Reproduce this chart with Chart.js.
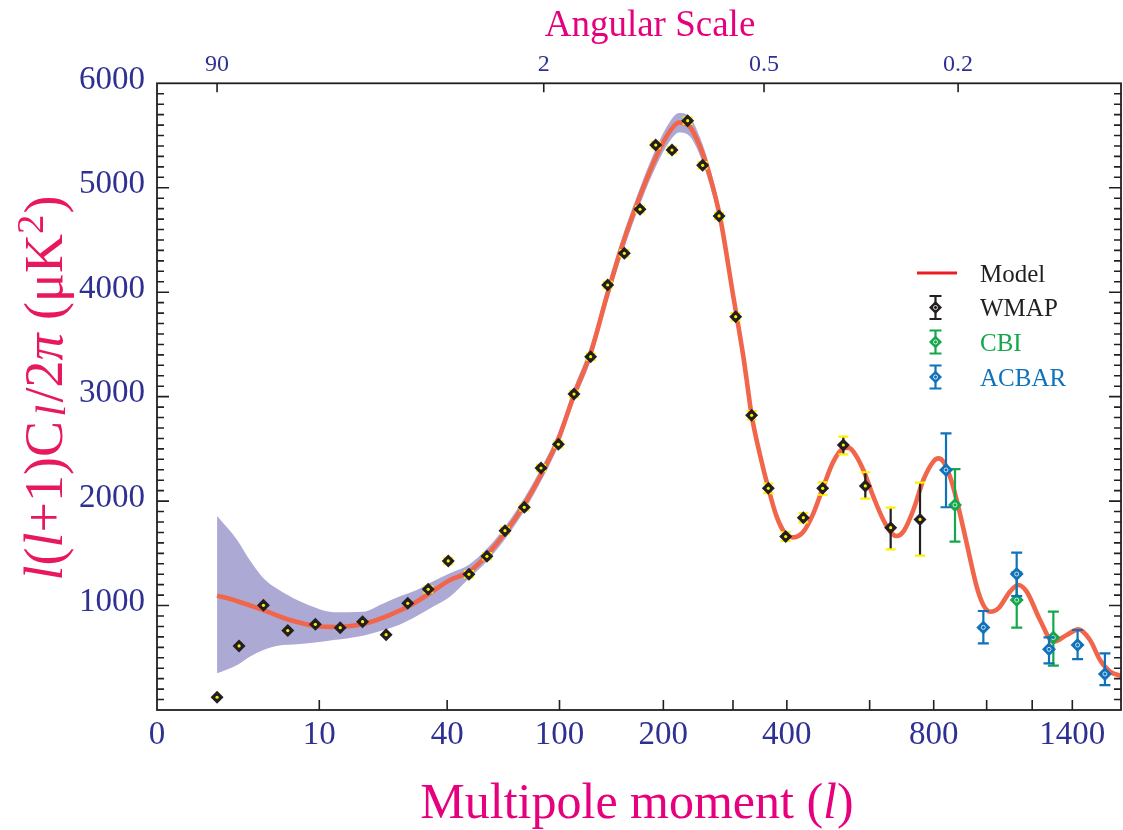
<!DOCTYPE html>
<html><head><meta charset="utf-8">
<script src="https://cdn.jsdelivr.net/npm/chart.js@4.4.1/dist/chart.umd.min.js"></script>
<style>html,body{margin:0;padding:0;background:#fff;}#wrap{width:1123px;height:830px;position:relative;}</style>
</head><body><div id="wrap"><canvas id="c" width="1123" height="830"></canvas></div>
<script>
// ---------- data ----------
const xTickValues = [0, 10, 40, 100, 200, 400, 800, 1400];
const xTickLabels = ['0', '10', '40', '100', '200', '400', '800', '1400'];
const xMinorTicks = [300, 600, 1000, 1200];
const angularTickL = [2, 89, 355, 888];
const angularTickLabels = ['90', '2', '0.5', '0.2'];
const yTickValues = [1000, 2000, 3000, 4000, 5000, 6000];

const modelL = [2.0, 2.88, 4.49, 6.71, 9.66, 12.45, 17.05, 22.82, 29.95, 35.17, 41.06, 48.64, 56.74, 65.82, 76.53, 88.51, 98.91, 111.0, 125.0, 140.3, 154.95, 172.9, 192.3, 208.3, 219.9, 234.7, 248.9, 263.6, 279.0, 300.6, 317.6, 323.4, 332.3, 347.5, 363.2, 379.4, 396.2, 413.5, 435.1, 457.5, 480.7, 504.8, 529.8, 542.6, 555.7, 582.5, 610.4, 639.2, 663.9, 679.1, 699.8, 731.7, 764.7, 798.7, 816.2, 833.9, 858.1, 882.7, 920.6, 959.7, 986.5, 1013.9, 1048.8, 1099.2, 1136.3, 1174.4, 1237.3, 1302.6, 1370.5, 1432.1, 1495.7, 1551.9, 1609.7, 1675];
const modelV = [1095, 1044, 957, 862, 804, 795, 823, 910, 1037, 1142, 1245, 1321, 1484, 1695, 1963, 2288, 2585, 3016, 3428, 4002, 4471, 4921, 5313, 5543, 5625, 5582, 5393, 5106, 4723, 3957, 3383, 3159, 2818, 2441, 2122, 1851, 1691, 1653, 1707, 1883, 2138, 2378, 2505, 2512, 2473, 2298, 2042, 1819, 1691, 1666, 1707, 1915, 2202, 2378, 2409, 2378, 2234, 2011, 1596, 1181, 1005, 941, 973, 1133, 1197, 1133, 862, 654, 718, 772, 670, 479, 367, 326];

const bandL = [2, 2.9, 3.6, 4.5, 5.5, 7.7, 9.7, 12, 17, 21, 25, 30, 35, 41, 48.6, 56.7, 65.8, 76.5, 88.5, 98.9, 111, 125, 140.3, 155, 172.9, 192.3, 208.3, 219.9, 234.7, 248.9, 263.6, 279, 300.6, 317.6, 332.3, 347.5, 363.2, 379.4, 396.2];
const bandUpper = [1857, 1628, 1436, 1261, 1165, 1040, 973, 935, 941, 1015, 1085, 1149, 1230, 1309, 1390, 1545, 1755, 2025, 2350, 2650, 3085, 3500, 4080, 4550, 5000, 5400, 5635, 5715, 5675, 5480, 5190, 4800, 4030, 3450, 2880, 2495, 2170, 1895, 1730];
const bandLower = [351, 431, 511, 574, 613, 632, 648, 670, 712, 760, 814, 900, 989, 1085, 1260, 1425, 1635, 1900, 2225, 2520, 2950, 3355, 3925, 4390, 4840, 5225, 5450, 5530, 5490, 5305, 5020, 4645, 3885, 3315, 2755, 2390, 2075, 1810, 1655];

const wmapL = [2, 3, 4.5, 6.5, 9.5, 13, 16.9, 21.9, 27.4, 33.5, 40.4, 48.6, 56.7, 65.8, 76.7, 87.2, 99.2, 111, 124.7, 140, 156.3, 172.9, 190.8, 210.8, 231.5, 252.7, 277.5, 304.5, 332.2, 363.2, 397.6, 435.1, 479.1, 529.8, 588, 660.9, 753.6];
const wmapV = [122, 613, 1002, 760, 820, 788, 846, 721, 1021, 1155, 1427, 1299, 1471, 1717, 1940, 2317, 2544, 3025, 3383, 4069, 4372, 4793, 5409, 5361, 5642, 5215, 4730, 3766, 2821, 2122, 1660, 1841, 2122, 2537, 2145, 1746, 1825];
const wmapErrHi = [0, 0, 0, 0, 0, 0, 0, 0, 0, 30, 30, 30, 30, 30, 30, 30, 30, 30, 30, 30, 30, 30, 30, 30, 30, 30, 30, 35, 40, 45, 40, 45, 58, 80, 131, 191, 351];
const wmapErrLo = [0, 0, 0, 0, 0, 0, 0, 0, 0, 30, 30, 30, 30, 30, 30, 30, 30, 30, 30, 30, 30, 30, 30, 30, 30, 30, 30, 35, 40, 45, 40, 45, 61, 89, 122, 208, 347];

const cbiL = [876.4, 1129, 1302.6];
const cbiV = [1963, 1053, 693];
const cbiErrHi = [344, 265, 248];
const cbiErrLo = [351, 265, 269];

const acbarL = [843.5, 986.5, 1128.8, 1281, 1428, 1580];
const acbarV = [2298, 791, 1302, 581, 622, 345];
const acbarErrHi = [351, 157, 204, 115, 144, 198];
const acbarErrLo = [357, 153, 211, 134, 134, 106];

// ---------- styling ----------
const FONT = '"Liberation Serif", "Times New Roman", Times, serif';
const NAVY = '#2e3192';
const MAGENTA = '#e6007e';
const ROSE = '#e8185f';
const FRAME = '#231f20';
const MODEL_COLOR = '#f1664a';
const BAND_COLOR = 'rgb(173,169,213)';
const WMAP_COLOR = '#231f20';
const CBI_COLOR = '#14a84b';
const ACBAR_COLOR = '#0f72ba';
const YELLOW = '#fff200';

const pts = (L, V) => L.map((l, i) => ({x: l, y: V[i]}));

// ---------- custom l^(1/4) multipole scale ----------
class QuarterPowerScale extends Chart.Scale {
  static id = 'quarterpower';
  static defaults = {};
  determineDataLimits() { this.min = this.options.min; this.max = this.options.max; }
  buildTicks() { return []; }
  getLabelForValue(v) { return String(v); }
  _t(v) { const c = Math.min(Math.max(v, this.min), this.max); return Math.pow(c, 0.25); }
  getPixelForValue(v) {
    const a = Math.pow(this.min, 0.25), b = Math.pow(this.max, 0.25);
    return this.getPixelForDecimal((this._t(v) - a) / (b - a));
  }
  getValueForPixel(p) {
    const a = Math.pow(this.min, 0.25), b = Math.pow(this.max, 0.25);
    return Math.pow(a + this.getDecimalForPixel(p) * (b - a), 4);
  }
}
Chart.register(QuarterPowerScale);

function diamond(ctx, x, y, r, fill) {
  ctx.beginPath();
  ctx.moveTo(x, y - r); ctx.lineTo(x + r, y); ctx.lineTo(x, y + r); ctx.lineTo(x - r, y); ctx.closePath();
  ctx.fillStyle = fill; ctx.fill();
}

function segFont(s, base) { return (s.it ? 'italic ' : '') + (base * (s.scale || 1)) + 'px ' + FONT; }
function richWidth(ctx, segs, base) {
  let w = 0;
  segs.forEach(s => { ctx.font = segFont(s, base); w += ctx.measureText(s.t).width + (s.gap || 0) * base; });
  return w;
}
function drawRich(ctx, segs, x, y, base, color) {
  let cx = x - richWidth(ctx, segs, base) / 2;
  ctx.fillStyle = color; ctx.textBaseline = 'alphabetic'; ctx.textAlign = 'left';
  segs.forEach(s => {
    cx += (s.gap || 0) * base;
    ctx.font = segFont(s, base);
    ctx.fillText(s.t, cx, y + (s.dy || 0) * base);
    cx += ctx.measureText(s.t).width;
  });
}

const errorBarPlugin = {
  id: 'errbars',
  beforeDatasetDraw(chart, args) {
    const ds = chart.data.datasets[args.index];
    if (!ds.errHi) return;
    const ctx = chart.ctx, ys = chart.scales.y;
    ctx.save();
    ctx.lineWidth = 2.2;
    ds.data.forEach((p, i) => {
      if (!ds.errHi[i] && !ds.errLo[i]) return;
      const px = args.meta.data[i].x;
      const yt = ys.getPixelForValue(p.y + ds.errHi[i]);
      const yb = ys.getPixelForValue(p.y - ds.errLo[i]);
      ctx.strokeStyle = ds.stemColor;
      ctx.beginPath(); ctx.moveTo(px, yt); ctx.lineTo(px, yb); ctx.stroke();
      ctx.strokeStyle = ds.capColor;
      const hw = ds.capHalf;
      ctx.beginPath(); ctx.moveTo(px - hw, yt); ctx.lineTo(px + hw, yt); ctx.moveTo(px - hw, yb); ctx.lineTo(px + hw, yb); ctx.stroke();
    });
    ctx.restore();
  },
  afterDatasetDraw(chart, args) {
    const ds = chart.data.datasets[args.index];
    if (!ds.centerStyle) return;
    const ctx = chart.ctx;
    ctx.save();
    args.meta.data.forEach(el => {
      ctx.beginPath();
      if (ds.centerStyle === 'dot') {
        ctx.arc(el.x, el.y, 1.6, 0, Math.PI * 2); ctx.fillStyle = YELLOW; ctx.fill();
      } else {
        ctx.arc(el.x, el.y, 2, 0, Math.PI * 2); ctx.strokeStyle = 'rgba(255,255,255,0.75)'; ctx.lineWidth = 1; ctx.stroke();
      }
    });
    ctx.restore();
  }
};

const decorPlugin = {
  id: 'decor',
  afterDraw(chart) {
    const {ctx, chartArea: ca, scales} = chart;
    const xs = scales.x, ys = scales.y, xt = scales.xTop;
    ctx.save();
    ctx.strokeStyle = FRAME; ctx.lineWidth = 1.8;
    ctx.strokeRect(ca.left, ca.top, ca.right - ca.left, ca.bottom - ca.top);
    ctx.lineWidth = 1.6;
    ctx.beginPath();
    for (let v = 100; v < 6000; v += 100) {
      const py = ys.getPixelForValue(v);
      const len = v % 1000 === 0 ? 12 : 7;
      ctx.moveTo(ca.left, py); ctx.lineTo(ca.left + len, py);
      ctx.moveTo(ca.right, py); ctx.lineTo(ca.right - len, py);
    }
    xTickValues.slice(1).concat(xMinorTicks).forEach(v => {
      const px = xs.getPixelForValue(v); ctx.moveTo(px, ca.bottom); ctx.lineTo(px, ca.bottom - 10);
    });
    angularTickL.forEach(v => {
      const px = xt.getPixelForValue(v); ctx.moveTo(px, ca.top); ctx.lineTo(px, ca.top + 9);
    });
    ctx.stroke();

    // titles
    drawRich(ctx, [{t: 'Angular Scale'}], 650, 36, 37, MAGENTA);
    drawRich(ctx, [{t: 'Multipole moment ('}, {t: 'l', it: true}, {t: ')'}], 637, 818, 50, MAGENTA);
    ctx.save();
    ctx.translate(62, 388); ctx.rotate(-Math.PI / 2);
    drawRich(ctx, [
      {t: 'l', it: true}, {t: '('}, {t: 'l', it: true}, {t: '+1)C'},
      {t: 'l', it: true, scale: 0.8, dy: 0.05, gap: 0.08}, {t: '/2', gap: 0.04}, {t: 'π', it: true},
      {t: ' (μK'}, {t: '2', scale: 0.72, dy: -0.36}, {t: ')', gap: 0.02}
    ], 0, 0, 54, ROSE);
    ctx.restore();

    // legend
    ctx.strokeStyle = '#ed1c24'; ctx.lineWidth = 2.8;
    ctx.beginPath(); ctx.moveTo(917, 273); ctx.lineTo(957, 273); ctx.stroke();
    ctx.font = '25px ' + FONT; ctx.textAlign = 'left'; ctx.textBaseline = 'alphabetic';
    ctx.fillStyle = '#231f20'; ctx.fillText('Model', 980, 282);
    const items = [
      {label: 'WMAP', color: WMAP_COLOR, text: '#231f20', cy: 307.5, base: 316},
      {label: 'CBI', color: CBI_COLOR, text: CBI_COLOR, cy: 342, base: 350.5},
      {label: 'ACBAR', color: ACBAR_COLOR, text: ACBAR_COLOR, cy: 377, base: 386}
    ];
    items.forEach(it => {
      ctx.strokeStyle = it.color; ctx.lineWidth = 2.2;
      ctx.beginPath();
      ctx.moveTo(935.5, it.cy - 11.5); ctx.lineTo(935.5, it.cy + 11.5);
      ctx.moveTo(929.5, it.cy - 11.5); ctx.lineTo(941.5, it.cy - 11.5);
      ctx.moveTo(929.5, it.cy + 11.5); ctx.lineTo(941.5, it.cy + 11.5);
      ctx.stroke();
      diamond(ctx, 935.5, it.cy, 6.5, it.color);
      ctx.beginPath(); ctx.arc(935.5, it.cy, 2, 0, Math.PI * 2);
      ctx.strokeStyle = 'rgba(255,255,255,0.8)'; ctx.lineWidth = 1; ctx.stroke();
      ctx.font = '25px ' + FONT; ctx.fillStyle = it.text;
      ctx.fillText(it.label, 980, it.base);
    });
    ctx.restore();
  }
};

const X_MIN = 0.5055, X_MAX = 1675;
const noPad = s => { s.paddingLeft = 0; s.paddingRight = 0; s.paddingTop = 0; s.paddingBottom = 0; };
const hiddenGrid = {display: false, drawTicks: false, tickLength: 0};

new Chart(document.getElementById('c'), {
  type: 'line',
  data: {
    datasets: [
      {label: 'ACBAR', data: pts(acbarL, acbarV), showLine: false, pointStyle: 'rectRot', pointRadius: 7,
       pointBackgroundColor: ACBAR_COLOR, pointBorderWidth: 0, errHi: acbarErrHi, errLo: acbarErrLo,
       stemColor: ACBAR_COLOR, capColor: ACBAR_COLOR, capHalf: 5.5, centerStyle: 'ring', order: 1},
      {label: 'CBI', data: pts(cbiL, cbiV), showLine: false, pointStyle: 'rectRot', pointRadius: 7,
       pointBackgroundColor: CBI_COLOR, pointBorderWidth: 0, errHi: cbiErrHi, errLo: cbiErrLo,
       stemColor: CBI_COLOR, capColor: CBI_COLOR, capHalf: 5.5, centerStyle: 'ring', order: 2},
      {label: 'WMAP', data: pts(wmapL, wmapV), showLine: false, pointStyle: 'rectRot', pointRadius: 6.5,
       pointBackgroundColor: WMAP_COLOR, pointBorderWidth: 0, errHi: wmapErrHi, errLo: wmapErrLo,
       stemColor: WMAP_COLOR, capColor: YELLOW, capHalf: 5, centerStyle: 'dot', order: 3},
      {label: 'Model', data: pts(modelL, modelV), borderColor: MODEL_COLOR, borderWidth: 4.6, pointRadius: 0,
       cubicInterpolationMode: 'monotone', fill: false, order: 4},
      {label: 'bandUpper', data: pts(bandL, bandUpper), borderWidth: 0, borderColor: 'rgba(0,0,0,0)', pointRadius: 0,
       cubicInterpolationMode: 'monotone', fill: '+1', backgroundColor: BAND_COLOR, order: 5},
      {label: 'bandLower', data: pts(bandL, bandLower), borderWidth: 0, borderColor: 'rgba(0,0,0,0)', pointRadius: 0,
       cubicInterpolationMode: 'monotone', fill: false, order: 6}
    ]
  },
  options: {
    responsive: false,
    animation: false,
    layout: {autoPadding: false, padding: {left: 0, right: 2, top: 0, bottom: 0}},
    plugins: {legend: {display: false}, tooltip: {enabled: false}},
    scales: {
      x: {
        type: 'quarterpower', position: 'bottom', min: X_MIN, max: X_MAX,
        grid: hiddenGrid, border: {display: false},
        afterBuildTicks: s => { s.ticks = xTickValues.map(v => ({value: v})); },
        afterFit: s => { s.height = 120; noPad(s); },
        ticks: {autoSkip: false, maxRotation: 0, minRotation: 0, padding: 6,
                font: {family: FONT, size: 33}, color: NAVY,
                callback: (v, i) => xTickLabels[i]}
      },
      xTop: {
        type: 'quarterpower', position: 'top', min: X_MIN, max: X_MAX,
        grid: hiddenGrid, border: {display: false},
        afterBuildTicks: s => { s.ticks = angularTickL.map(v => ({value: v})); },
        afterFit: s => { s.height = 83.3; noPad(s); },
        ticks: {autoSkip: false, maxRotation: 0, minRotation: 0, padding: 4,
                font: {family: FONT, size: 24}, color: NAVY,
                callback: (v, i) => angularTickLabels[i]}
      },
      y: {
        type: 'linear', position: 'left', min: 0, max: 6000,
        grid: hiddenGrid, border: {display: false},
        afterBuildTicks: s => { s.ticks = yTickValues.map(v => ({value: v})); },
        afterFit: s => { s.width = 157; noPad(s); },
        ticks: {padding: 12, labelOffset: -3, font: {family: FONT, size: 33}, color: NAVY,
                callback: v => String(v)}
      }
    }
  },
  plugins: [errorBarPlugin, decorPlugin]
});
</script>
</body></html>
